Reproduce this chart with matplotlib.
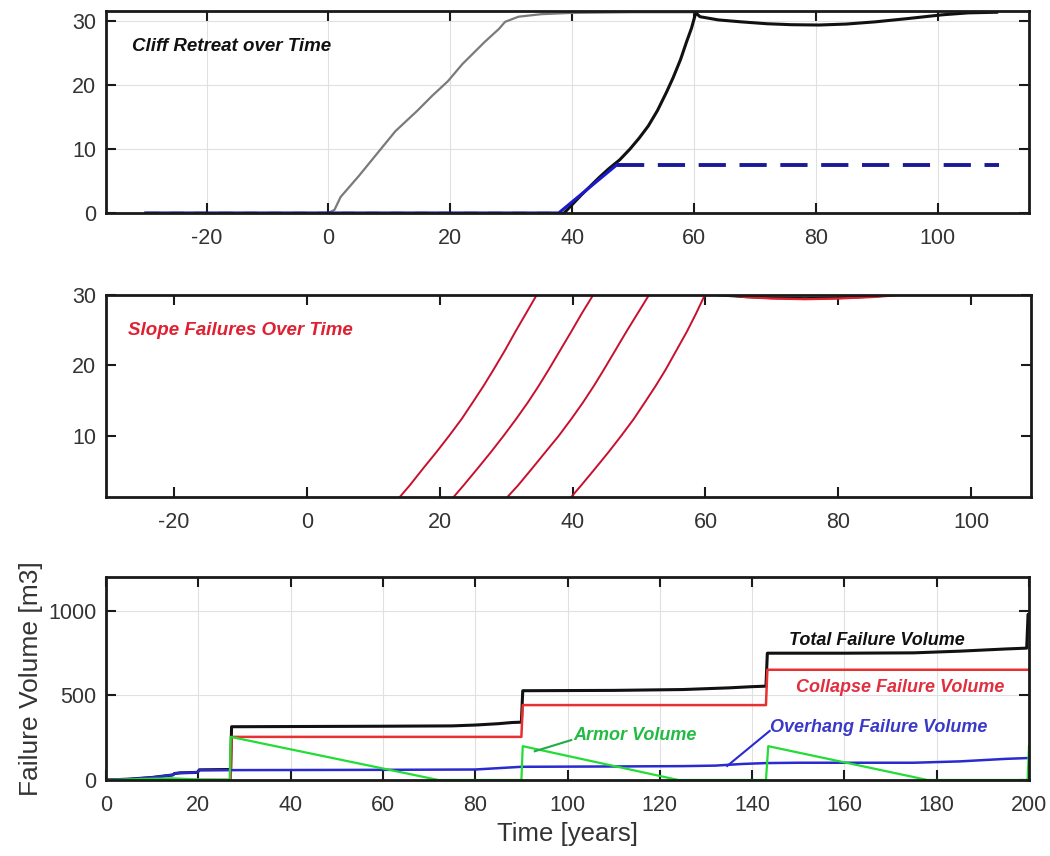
import matplotlib
matplotlib.use("Agg")
import matplotlib.pyplot as plt

plt.rcParams['font.family'] = ['Liberation Sans', 'DejaVu Sans']
plt.rcParams['axes.unicode_minus'] = False

# ---------------- Panel 1: Cliff retreat over time ----------------
gray_t = [0, 1, 2, 5, 8, 11, 14.6, 17, 19.6, 22, 25.7, 28, 29, 31.2, 35, 40, 50, 60]
gray_v = [0, 0.5, 2.5, 5.8, 9.3, 12.8, 16, 18.3, 20.6, 23.3, 26.8, 28.8, 29.9, 30.7, 31.1, 31.3, 31.4, 31.4]

black_t = [38.7, 40, 41.5, 43, 44.5, 46, 47.8, 49.5, 51, 52.5, 54, 55.5, 56.6, 57.8, 58.8, 59.6, 60.3,
           61, 64, 67.7, 72, 76, 80.5, 85, 89.8, 95, 100.8, 105, 109.7]
black_v = [0, 1.3, 2.8, 4.2, 5.6, 6.9, 8.3, 10.0, 11.7, 13.6, 16.0, 18.9, 21.2, 24.0, 26.8, 28.9, 31.3,
           30.7, 30.2, 29.9, 29.6, 29.45, 29.4, 29.55, 29.9, 30.4, 31.0, 31.3, 31.4]

blue_solid_t = [-30, 37.8, 47.3]
blue_solid_v = [0, 0, 7.5]
blue_dash_t = [47.3, 110]
blue_dash_v = [7.5, 7.5]
zero_dash_t = [-30, 38.7]
zero_dash_v = [0, 0]

# ---------------- Panel 2: Slope failures over time ----------------
slope_y = [1.35, 3, 5.5, 7.7, 10, 12.4, 14.8, 17.1, 19.4, 22.1, 24.8, 27.4, 30]
slope_t1 = [14.0, 15.5, 17.6, 19.5, 21.4, 23.3, 25.0, 26.6, 28.1, 29.8, 31.4, 33.0, 34.6]
slope_t2 = [22.1, 23.6, 25.8, 27.7, 29.6, 31.5, 33.3, 34.9, 36.4, 38.1, 39.8, 41.4, 43.1]
slope_t3 = [30.2, 31.8, 34.0, 35.9, 37.9, 39.8, 41.6, 43.2, 44.7, 46.4, 48.1, 49.8, 51.5]
slope_t4 = [39.8, 41.3, 43.5, 45.4, 47.3, 49.2, 50.9, 52.5, 54.0, 55.6, 57.2, 58.6, 59.9]
top_red_t = [59.9, 62, 66, 70, 75, 80, 85, 88, 90]
top_red_v = [30.0, 30.2, 29.7, 29.5, 29.4, 29.5, 29.7, 29.9, 30.1]
top_blk_t = [62, 66, 70, 75, 80, 85, 88]
top_blk_v = [30.0, 29.75, 29.6, 29.5, 29.6, 29.8, 30.0]

# ---------------- Panel 3: Failure volumes ----------------
total_t = [0, 5, 10, 14.5, 14.8, 16, 19.8, 20.2, 27, 27.2, 60, 75, 80, 85, 88, 90, 90.3, 110, 125, 135, 140, 143, 143.3, 160, 175, 185, 195, 199.5, 199.8, 200]
total_v = [0, 5, 15, 30, 38, 42, 45, 60, 62, 315, 318, 320, 325, 333, 340, 342, 528, 530, 535, 545, 552, 555, 750, 750, 752, 762, 775, 780, 980, 980]

collapse_t = [0, 27, 27.2, 90, 90.3, 143, 143.3, 199.8]
collapse_v = [0, 0, 255, 255, 443, 443, 652, 652]

overhang_t = [0, 5, 10, 14.5, 14.8, 16, 19.8, 20.2, 60, 80, 85, 90, 110, 125, 132, 138, 143, 150, 175, 185, 195, 200]
overhang_v = [0, 5, 15, 30, 38, 42, 45, 58, 60, 62, 70, 78, 80, 82, 85, 95, 100, 102, 102, 110, 125, 130]

armor_t = [0, 8, 14, 20, 26.8, 27, 72, 90, 90.3, 124, 143, 143.5, 178, 199.7, 200]
armor_v = [0, 6, 10, 3, 2, 255, 0, 0, 200, 0, 0, 200, 0, 0, 200]

x_ticks_top = [-20, 0, 20, 40, 60, 80, 100]
y_ticks_top = [0, 10, 20, 30]
y_ticks_mid = [10, 20, 30]
x_ticks_bot = [0, 20, 40, 60, 80, 100, 120, 140, 160, 180, 200]
y_ticks_bot = [0, 500, 1000]

TICK_COLOR = '#333333'


def style(ax, grid=True):
    for s in ax.spines.values():
        s.set_linewidth(2.0)
        s.set_color('#1a1a1a')
    ax.tick_params(direction='in', length=7, width=1.5, top=True, right=True,
                   labelsize=15.5, labelcolor=TICK_COLOR, color='#1a1a1a')
    ax.tick_params(axis='x', pad=11)
    ax.tick_params(axis='y', pad=7)
    if grid:
        ax.grid(True, color='#e0e0e0', linewidth=0.8)
        ax.set_axisbelow(True)


fig = plt.figure(figsize=(10.5, 8.56), dpi=100)

# Panel 1
ax1 = fig.add_axes([0.101, 0.7512, 0.879, 0.236])
ax1.plot(gray_t, gray_v, color='#7a7a7a', lw=1.6)
ax1.plot(black_t, black_v, color='#111111', lw=2.2)
ax1.plot(blue_solid_t, blue_solid_v, color='#1a1acc', lw=2.2)
ax1.plot(blue_dash_t, blue_dash_v, color='#1a1a99', lw=2.8, dashes=(7, 3.5))
ax1.plot(zero_dash_t, zero_dash_v, color='#111111', lw=1.6, dashes=(6, 5))
ax1.set_xlim(-36.5, 115)
ax1.set_ylim(0, 31.6)
ax1.set_xticks(x_ticks_top)
ax1.set_yticks(y_ticks_top)
style(ax1)
ax1.text(-32.3, 26.0, 'Cliff Retreat over Time', fontsize=13.5, fontweight='bold',
         fontstyle='italic', color='#111111', va='center', ha='left')

# Panel 2
ax2 = fig.add_axes([0.101, 0.4194, 0.881, 0.236])
for ct in (slope_t1, slope_t2, slope_t3, slope_t4):
    ax2.plot(ct, slope_y, color='#c8102e', lw=1.4)
ax2.plot(top_blk_t, top_blk_v, color='#111111', lw=2.0)
ax2.plot(top_red_t, top_red_v, color='#e0202a', lw=1.6)
ax2.set_xlim(-30.2, 109)
ax2.set_ylim(1.35, 30)
ax2.set_xticks(x_ticks_top)
ax2.set_yticks(y_ticks_mid)
style(ax2, grid=False)
ax2.text(-26.9, 25.0, 'Slope Failures Over Time', fontsize=13.5, fontweight='bold',
         fontstyle='italic', color='#e02030', va='center', ha='left')

# Panel 3
ax3 = fig.add_axes([0.101, 0.0888, 0.879, 0.237])
ax3.plot(total_t, total_v, color='#111111', lw=2.2)
ax3.plot(collapse_t, collapse_v, color='#e83030', lw=1.8)
ax3.plot(overhang_t, overhang_v, color='#2a2ad0', lw=1.8)
ax3.plot(armor_t, armor_v, color='#22dd33', lw=1.6)
ax3.set_xlim(0, 200)
ax3.set_ylim(0, 1200)
ax3.set_xticks(x_ticks_bot)
ax3.set_yticks(y_ticks_bot)
style(ax3)
ax3.set_xlabel('Time [years]', fontsize=18.5, color='#333333', labelpad=4)
ax3.set_ylabel('Failure Volume [m3]', fontsize=19, color='#333333', labelpad=4)

ann_kw = dict(fontsize=13, fontweight='bold', fontstyle='italic', va='center', ha='left')
ax3.text(148, 827, 'Total Failure Volume', color='#111111', **ann_kw)
ax3.text(149.6, 550, 'Collapse Failure Volume', color='#e03040', **ann_kw)
ax3.text(143.8, 313, 'Overhang Failure Volume', color='#3a3ac8', **ann_kw)
ax3.text(101.2, 266, 'Armor Volume', color='#22bb44', **ann_kw)
ax3.plot([100.8, 92.9], [236, 170], color='#22aa44', lw=1.5)
ax3.plot([143.8, 134.6], [290, 83], color='#2a2ad0', lw=1.5)

fig.savefig('out.png', dpi=100)
